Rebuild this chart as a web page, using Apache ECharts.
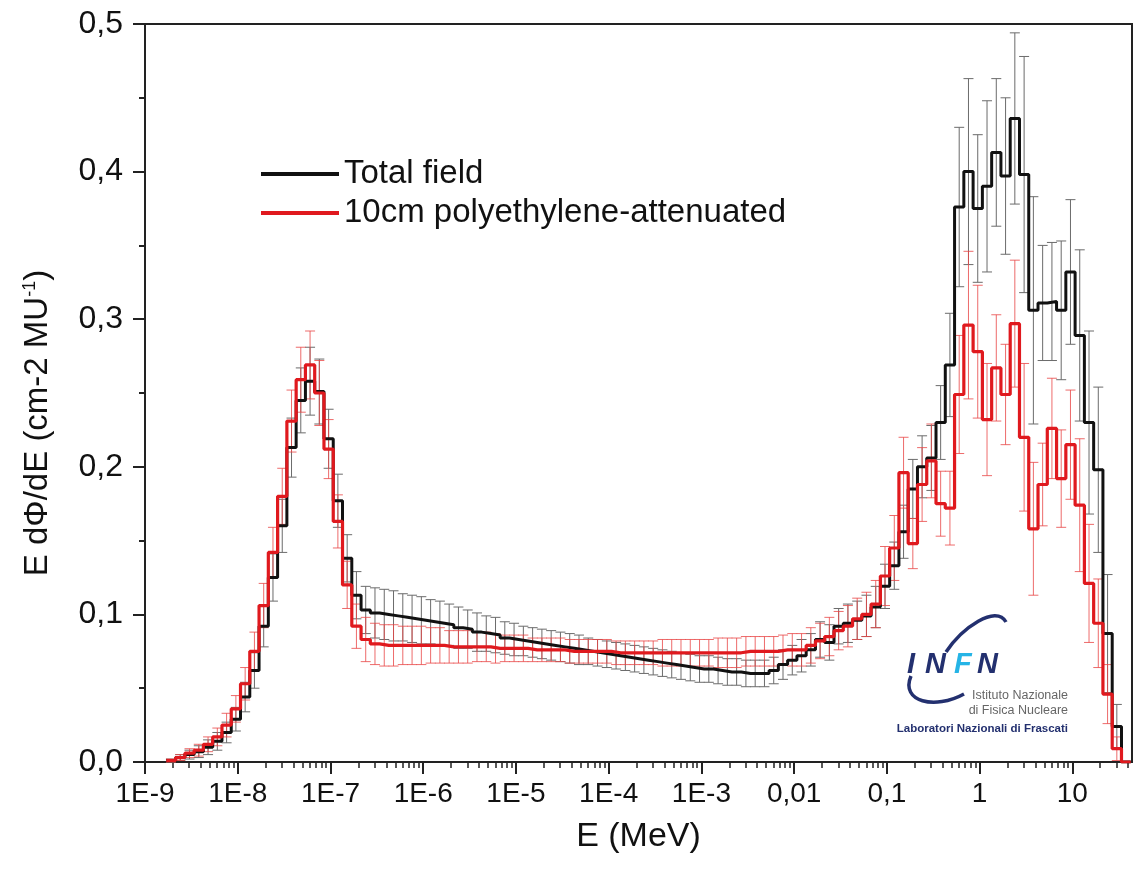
<!DOCTYPE html>
<html>
<head>
<meta charset="utf-8">
<script src="https://cdn.jsdelivr.net/npm/echarts@6/dist/echarts.min.js"></script>
<style>
html,body{margin:0;padding:0;background:#fff;}
#chart{width:1141px;height:870px;}
</style>
</head>
<body>
<div id="chart"></div>
<script>
// ---- data (bins are 10 per decade; first bin lower edge exponent below) ----
const binStartExp = -8.77;
const binsPerDecade = 10;

const totalField = [
  0.001,0.003,0.005,0.007,0.010,0.014,0.020,0.029,0.044,0.062,
  0.092,0.125,0.160,0.213,0.245,0.258,0.251,0.219,0.177,0.138,
  0.113,0.103,0.101,0.100,0.099,0.098,0.097,0.096,0.095,0.094,
  0.093,0.091,0.090,0.088,0.087,0.086,0.084,0.083,0.082,0.081,
  0.080,0.079,0.078,0.077,0.076,0.075,0.074,0.073,0.072,0.071,
  0.070,0.069,0.068,0.067,0.066,0.065,0.064,0.063,0.063,0.062,
  0.061,0.061,0.060,0.060,0.060,0.062,0.066,0.069,0.072,0.076,
  0.083,0.081,0.092,0.094,0.096,0.099,0.105,0.119,0.133,0.156,
  0.185,0.200,0.206,0.230,0.269,0.376,0.400,0.375,0.390,0.413,
  0.397,0.436,0.398,0.306,0.311,0.312,0.306,0.332,0.289,0.230,
  0.198,0.087,0.024,0
];
const totalErr = [
  0.001,0.002,0.003,0.004,0.005,0.006,0.007,0.008,0.010,0.012,
  0.014,0.016,0.018,0.020,0.022,0.023,0.022,0.020,0.018,0.016,
  0.016,0.016,0.017,0.017,0.017,0.016,0.016,0.016,0.015,0.015,
  0.014,0.014,0.013,0.013,0.012,0.012,0.011,0.011,0.010,0.010,
  0.010,0.010,0.010,0.010,0.010,0.009,0.009,0.009,0.009,0.009,
  0.009,0.009,0.009,0.009,0.009,0.009,0.009,0.009,0.009,0.009,
  0.009,0.009,0.009,0.009,0.009,0.009,0.010,0.010,0.011,0.011,
  0.012,0.012,0.012,0.013,0.013,0.014,0.014,0.015,0.016,0.018,
  0.020,0.021,0.022,0.025,0.035,0.054,0.063,0.050,0.058,0.050,
  0.053,0.058,0.080,0.077,0.039,0.040,0.047,0.049,0.058,0.062,
  0.056,0.040,0.015,0
];
const polyAttenuated = [
  0.001,0.003,0.006,0.008,0.012,0.017,0.025,0.036,0.053,0.075,
  0.106,0.142,0.180,0.231,0.259,0.269,0.250,0.212,0.163,0.120,
  0.092,0.083,0.080,0.079,0.079,0.079,0.079,0.079,0.079,0.079,
  0.078,0.078,0.078,0.078,0.078,0.077,0.077,0.077,0.077,0.076,
  0.076,0.076,0.076,0.075,0.075,0.075,0.075,0.075,0.074,0.074,
  0.074,0.074,0.074,0.074,0.074,0.074,0.074,0.074,0.074,0.074,
  0.074,0.074,0.075,0.075,0.075,0.075,0.076,0.076,0.076,0.079,
  0.082,0.085,0.089,0.092,0.097,0.100,0.107,0.126,0.145,0.196,
  0.148,0.188,0.204,0.175,0.172,0.249,0.296,0.278,0.232,0.267,
  0.249,0.297,0.220,0.158,0.188,0.226,0.192,0.215,0.174,0.121,
  0.094,0.046,0.009,0
];
const polyErr = [
  0.001,0.002,0.003,0.004,0.005,0.006,0.008,0.009,0.011,0.013,
  0.015,0.017,0.019,0.021,0.022,0.023,0.022,0.020,0.018,0.016,
  0.015,0.015,0.014,0.014,0.014,0.013,0.013,0.013,0.012,0.012,
  0.011,0.011,0.011,0.010,0.010,0.010,0.009,0.009,0.009,0.008,
  0.008,0.008,0.008,0.008,0.008,0.008,0.008,0.008,0.008,0.008,
  0.008,0.008,0.008,0.009,0.009,0.009,0.009,0.009,0.009,0.010,
  0.010,0.010,0.010,0.010,0.010,0.010,0.010,0.011,0.011,0.012,
  0.012,0.013,0.013,0.014,0.014,0.015,0.016,0.020,0.022,0.024,
  0.017,0.025,0.025,0.022,0.025,0.040,0.050,0.045,0.038,0.036,
  0.034,0.043,0.050,0.045,0.028,0.034,0.033,0.037,0.045,0.040,
  0.030,0.020,0.008,0
];
const xMajorTicks = [1e-9,1e-8,1e-7,1e-6,1e-5,1e-4,1e-3,1e-2,1e-1,1,10];
const xTickLabels = ['1E-9','1E-8','1E-7','1E-6','1E-5','1E-4','1E-3','0,01','0,1','1','10'];
const xMin = 1e-9, xMax = 44;
const yMin = 0, yMax = 0.5, yInterval = 0.1;
const seriesNames = ['Total field', '10cm polyethylene-attenuated'];

// ---- build ----
const nBins = totalField.length;
const edges = [];
for (let i = 0; i <= nBins; i++) edges.push(Math.pow(10, binStartExp + i / binsPerDecade));
const centerFactor = Math.pow(10, 0.5 / binsPerDecade);

function stepData(vals) {
  const d = vals.map((v, i) => [edges[i], v]);
  d.push([edges[nBins], vals[nBins - 1]]);
  return d;
}
function errData(vals, errs) {
  const d = [];
  vals.forEach((v, i) => { if (v > 0) d.push([edges[i] * centerFactor, v - errs[i], v + errs[i]]); });
  return d;
}
const minorTicks = [];
xMajorTicks.forEach(t => { for (let k = 2; k <= 9; k++) { const v = t * k; if (v < xMax) minorTicks.push(v); } });

function errRender(color) {
  return function (params, api) {
    const x = api.value(0);
    const lo = api.coord([x, api.value(1)]);
    const hi = api.coord([x, api.value(2)]);
    const hw = 5;
    const st = { stroke: color, lineWidth: 1 };
    return { type: 'group', children: [
      { type: 'line', shape: { x1: lo[0], y1: lo[1], x2: hi[0], y2: hi[1] }, style: st },
      { type: 'line', shape: { x1: lo[0] - hw, y1: lo[1], x2: lo[0] + hw, y2: lo[1] }, style: st },
      { type: 'line', shape: { x1: hi[0] - hw, y1: hi[1], x2: hi[0] + hw, y2: hi[1] }, style: st }
    ]};
  };
}

const FONT = "'Liberation Sans', Arial, sans-serif";
const chart = echarts.init(document.getElementById('chart'), null, { renderer: 'canvas' });
chart.setOption({
  animation: false,
  backgroundColor: '#fff',
  textStyle: { fontFamily: FONT },
  grid: { left: 145, right: 9, top: 24, bottom: 108, show: true, borderColor: '#222', borderWidth: 2, containLabel: false },
  legend: {
    data: seriesNames,
    orient: 'vertical',
    left: 256, top: 151,
    icon: 'rect',
    itemWidth: 78, itemHeight: 4, itemGap: 3,
    textStyle: { fontSize: 33, color: '#111', fontFamily: FONT, lineHeight: 36 },
  },
  xAxis: [{
    type: 'log', logBase: 10, min: xMin, max: xMax,
    name: 'E (MeV)', nameLocation: 'middle', nameGap: 58,
    nameTextStyle: { fontSize: 34, color: '#111', fontFamily: FONT },
    axisLine: { show: true, onZero: false, lineStyle: { color: '#222', width: 2 } },
    axisTick: { show: true, inside: false, length: 12, customValues: xMajorTicks, lineStyle: { color: '#222', width: 2 } },
    axisLabel: {
      show: true, margin: 18, fontSize: 28, color: '#111', fontFamily: FONT,
      customValues: xMajorTicks,
      formatter: function (v) {
        const lv = Math.log10(v);
        for (let i = 0; i < xMajorTicks.length; i++) if (Math.abs(Math.log10(xMajorTicks[i]) - lv) < 1e-6) return xTickLabels[i];
        return '';
      }
    },
    splitLine: { show: false }
  }, {
    type: 'log', logBase: 10, min: xMin, max: xMax, position: 'bottom',
    axisLine: { show: false },
    axisTick: { show: true, inside: false, length: 6, customValues: minorTicks, lineStyle: { color: '#222', width: 1.5 } },
    axisLabel: { show: false },
    splitLine: { show: false }
  }],
  yAxis: {
    type: 'value', min: yMin, max: yMax, interval: yInterval,
    axisLine: { show: true, lineStyle: { color: '#222', width: 2 } },
    axisTick: { show: true, inside: false, length: 12, lineStyle: { color: '#222', width: 2 } },
    minorTick: { show: true, splitNumber: 2, length: 6, lineStyle: { color: '#222', width: 2 } },
    axisLabel: { margin: 22, fontSize: 32, color: '#111', fontFamily: FONT, formatter: v => v.toFixed(1).replace('.', ',') },
    splitLine: { show: false }
  },
  series: [
    { name: 'errTotal', type: 'custom', xAxisIndex: 0, renderItem: errRender('#6b6b6b'), encode: { x: 0, y: [1, 2] }, data: errData(totalField, totalErr), z: 2, silent: true },
    { name: 'errPoly', type: 'custom', xAxisIndex: 0, renderItem: errRender('rgba(232,70,70,0.8)'), encode: { x: 0, y: [1, 2] }, data: errData(polyAttenuated, polyErr), z: 3, silent: true },
    { name: seriesNames[0], type: 'line', xAxisIndex: 0, step: 'end', showSymbol: false, symbol: 'none', data: stepData(totalField), lineStyle: { color: '#111', width: 3 }, itemStyle: { color: '#111' }, z: 4 },
    { name: seriesNames[1], type: 'line', xAxisIndex: 0, step: 'end', showSymbol: false, symbol: 'none', data: stepData(polyAttenuated), lineStyle: { color: '#e0191e', width: 3.2 }, itemStyle: { color: '#e0191e' }, z: 5 }
  ],
  graphic: [
    { type: 'text', x: 38, y: 423, rotation: Math.PI / 2, z: 10,
      style: { text: 'E dΦ/dE (cm-2 MU{sup|-1})', fontSize: 33, fontFamily: FONT, fill: '#111', align: 'center', verticalAlign: 'middle',
        rich: { sup: { fontSize: 18, fontFamily: FONT, fill: '#111', verticalAlign: 'top', padding: [0, 0, 14, 0] } } } },
    // INFN logo
    { type: 'bezierCurve', shape: { x1: 946, y1: 652, cpx1: 962, cpy1: 628, cpx2: 996, cpy2: 604, x2: 1006, y2: 622 }, style: { stroke: '#23306f', lineWidth: 3.5, fill: null } },
    { type: 'bezierCurve', shape: { x1: 911, y1: 676, cpx1: 900, cpy1: 702, cpx2: 935, cpy2: 710, x2: 964, y2: 694 }, style: { stroke: '#23306f', lineWidth: 3.5, fill: null } },
    { type: 'text', x: 907, y: 665, style: { text: 'I', fontSize: 29, fontWeight: 'bold', fontStyle: 'italic', fontFamily: FONT, fill: '#23306f', verticalAlign: 'middle' } },
    { type: 'text', x: 925, y: 665, style: { text: 'N', fontSize: 29, fontWeight: 'bold', fontStyle: 'italic', fontFamily: FONT, fill: '#23306f', verticalAlign: 'middle' } },
    { type: 'text', x: 954, y: 665, style: { text: 'F', fontSize: 29, fontWeight: 'bold', fontStyle: 'italic', fontFamily: FONT, fill: '#25b4e6', verticalAlign: 'middle' } },
    { type: 'text', x: 977, y: 665, style: { text: 'N', fontSize: 29, fontWeight: 'bold', fontStyle: 'italic', fontFamily: FONT, fill: '#23306f', verticalAlign: 'middle' } },
    { type: 'text', x: 1068, y: 696, style: { text: 'Istituto Nazionale', fontSize: 12.5, fontFamily: FONT, fill: '#666', align: 'right', verticalAlign: 'middle' } },
    { type: 'text', x: 1068, y: 711, style: { text: 'di Fisica Nucleare', fontSize: 12.5, fontFamily: FONT, fill: '#666', align: 'right', verticalAlign: 'middle' } },
    { type: 'text', x: 1068, y: 729, style: { text: 'Laboratori Nazionali di Frascati', fontSize: 11.5, fontWeight: 'bold', fontFamily: FONT, fill: '#23306f', align: 'right', verticalAlign: 'middle' } }
  ]
});
</script>
</body>
</html>
